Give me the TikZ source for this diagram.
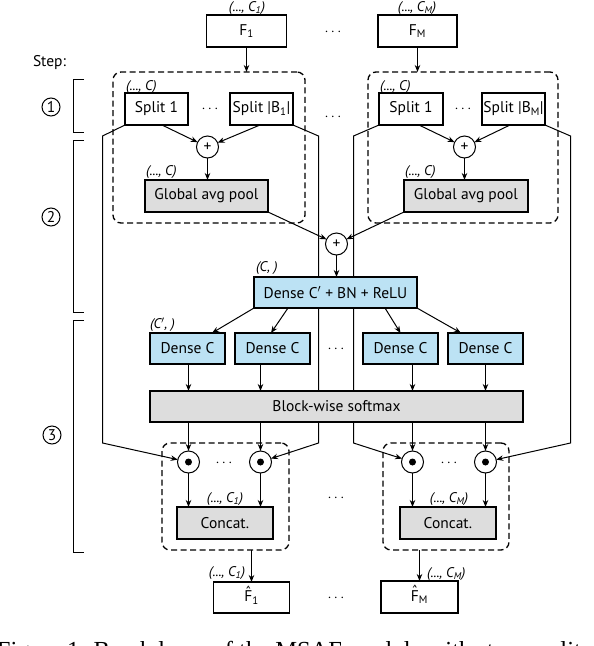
\documentclass[tikz,border=0pt]{standalone}
\usepackage{fontspec}
\setmainfont{PT Sans}
\newfontfamily\capfont{Liberation Serif}
\usetikzlibrary{arrows.meta,backgrounds}
\definecolor{boxblue}{RGB}{188,226,244}
\definecolor{boxgrey}{RGB}{221,221,221}
\newcommand{\hatF}{\ooalign{F\cr\hidewidth\raisebox{0.28em}{\char"02C6}\hidewidth\cr}}
\begin{document}
\begin{tikzpicture}[x=1pt,y=-1pt,
  every node/.style={inner sep=0pt, outer sep=0pt},
  txt/.style={font=\fontsize{15.5}{18}\selectfont},
  lbl/.style={font=\itshape\fontsize{14}{16}\selectfont},
  wbox/.style={txt, draw, line width=1.4pt, fill=white},
  gbox/.style={wbox, fill=boxgrey},
  bbox/.style={wbox, fill=boxblue},
  dbox/.style={draw, line width=1.3pt, dash pattern=on 6pt off 3.5pt, rounded corners=8pt},
  opnode/.style={draw, circle, line width=1pt, minimum size=22pt, fill=white, txt},
  dotnode/.style={opnode, path picture={\fill[black] (path picture bounding box.center) circle (3.5pt);}},
  stepnode/.style={draw, circle, line width=1pt, minimum size=18pt, txt},
  conn/.style={line width=1pt},
  arr/.style={conn, -{Stealth[length=7pt,width=5.5pt]}},
]
\useasboundingbox (0,0) rectangle (594,646);

% dashed group boxes
\node[dbox, minimum width=192pt, minimum height=151pt] (g1top) at (209,147.5) {};
\node[dbox, minimum width=190pt, minimum height=151pt] (gMtop) at (463,147.5) {};
\node[dbox, minimum width=127pt, minimum height=107pt] (g1bot) at (225.5,496.5) {};
\node[dbox, minimum width=126pt, minimum height=107pt] (gMbot) at (446,496.5) {};

% inputs
\node[wbox, minimum width=80pt, minimum height=32pt] (F1) at (246.5,31) {F\textsubscript{1}};
\node[wbox, minimum width=79pt, minimum height=32pt] (FM) at (417.5,31) {F\textsubscript{M}};
\node[lbl] (lF1) at (247,8) {(..., C\textsubscript{1})};
\node[lbl] (lFM) at (417,8) {(..., C\textsubscript{M})};
\node[txt] (dF) at (333,32) {$\cdots$};

% step column
\node[txt, anchor=west] (steptxt) at (33,63) {Step:};
\node[stepnode] (st1) at (51,107) {1};
\node[stepnode] (st2) at (51,217) {2};
\node[stepnode] (st3) at (52,435) {3};
\draw[conn] (84,79.5) -- (73.5,79.5) -- (73.5,132.5) -- (84,132.5);
\draw[conn] (84,140.5) -- (73.5,140.5) -- (73.5,312.5) -- (84,312.5);
\draw[conn] (84,320.5) -- (73.5,320.5) -- (73.5,552.5) -- (84,552.5);

% splits
\node[wbox, minimum width=63pt, minimum height=32pt] (S11) at (156.5,109) {Split 1};
\node[wbox, minimum width=63pt, minimum height=32pt] (S1B) at (261.5,109) {Split |B\textsubscript{1}|};
\node[wbox, minimum width=64pt, minimum height=32pt] (SM1) at (411,109) {Split 1};
\node[wbox, minimum width=63pt, minimum height=32pt] (SMB) at (513.5,109) {Split |B\textsubscript{M}|};
\node[txt] (dS1) at (210,109) {$\cdots$};
\node[txt] (dSM) at (463,109) {$\cdots$};
\node[txt] (dG) at (333,117) {$\cdots$};
\node[lbl, anchor=west] (lS1) at (126,87) {(..., C)};
\node[lbl, anchor=west] (lSM) at (380,87) {(..., C)};

% sums and pools
\node[opnode] (P1) at (207.5,147) {+};
\node[opnode] (PM) at (464.5,147) {+};
\node[gbox, minimum width=123pt, minimum height=32pt] (G1) at (206.5,196) {Global avg pool};
\node[gbox, minimum width=124pt, minimum height=32pt] (GM) at (466,196) {Global avg pool};
\node[lbl, anchor=west] (lG1) at (146,172) {(..., C)};
\node[lbl, anchor=west] (lGM) at (405,172) {(..., C)};

\node[opnode] (P0) at (336.5,244) {+};
\node[bbox, minimum width=163pt, minimum height=31pt] (D0) at (335.5,292.5) {Dense C$'$ + BN + ReLU};
\node[lbl, anchor=west] (lD0) at (256,268) {(C, )};

\node[bbox, minimum width=75pt, minimum height=31pt] (DC1) at (187.5,348.5) {Dense C};
\node[bbox, minimum width=75pt, minimum height=31pt] (DC2) at (272.5,348.5) {Dense C};
\node[bbox, minimum width=75pt, minimum height=31pt] (DC3) at (400.5,348.5) {Dense C};
\node[bbox, minimum width=75pt, minimum height=31pt] (DC4) at (485.5,348.5) {Dense C};
\node[lbl, anchor=west] (lDC) at (150,325) {(C$'$, )};
\node[txt] (dDC) at (336,349) {$\cdots$};

\node[gbox, minimum width=373pt, minimum height=31pt] (SMX) at (336.5,406.5) {Block-wise softmax};

% products
\node[dotnode] (O1) at (188.5,462) {};
\node[dotnode] (O2) at (260.5,462) {};
\node[dotnode] (O3) at (412.5,462) {};
\node[dotnode] (O4) at (485.5,462) {};
\node[txt] (dO1) at (224,463) {$\cdots$};
\node[txt] (dOM) at (449,463) {$\cdots$};
\node[txt] (dB) at (336,498) {$\cdots$};

\node[gbox, minimum width=96pt, minimum height=32pt] (C1) at (225,523) {Concat.};
\node[gbox, minimum width=96pt, minimum height=32pt] (CM) at (448,523) {Concat.};
\node[lbl] (lC1) at (225,499) {(..., C\textsubscript{1})};
\node[lbl] (lCM) at (449,499) {(..., C\textsubscript{M})};

% outputs
\node[wbox, minimum width=76pt, minimum height=31pt] (H1) at (251.5,597.5) {\hatF\textsubscript{1}};
\node[wbox, minimum width=77pt, minimum height=32pt] (HM) at (419.5,597) {\hatF\textsubscript{M}};
\node[lbl, anchor=east] (lH1) at (245,573) {(..., C\textsubscript{1})};
\node[lbl, anchor=west] (lHM) at (427,574) {(..., C\textsubscript{M})};
\node[txt] (dH) at (336,598) {$\cdots$};

% side (skip) lines, behind boxes
\coordinate (a1) at (102.5,136); \coordinate (a2) at (102.5,443);
\coordinate (b1) at (318.5,136); \coordinate (b2) at (318.5,443);
\coordinate (c1) at (353.5,136); \coordinate (c2) at (353.5,443);
\coordinate (e1) at (570.5,136); \coordinate (e2) at (570.5,443);
\begin{scope}[on background layer]
\fill[white] (0,0) rectangle (594,646);
\draw[arr] (S11.south west) -- (a1) -- (a2) -- (O1);
\draw[arr] (S1B.south east) -- (b1) -- (b2) -- (O2);
\draw[arr] (SM1.south west) -- (c1) -- (c2) -- (O3);
\draw[arr] (SMB.south east) -- (e1) -- (e2) -- (O4);
\end{scope}

% connectors
\draw[arr] (F1.south) -- (F1.south |- g1top.north);
\draw[arr] (FM.south) -- (FM.south |- gMtop.north);
\draw[arr] ([xshift=5.5pt]S11.south) -- (P1);
\draw[arr] ([xshift=-1.5pt]S1B.south) -- (P1);
\draw[arr] ([xshift=8pt]SM1.south) -- (PM);
\draw[arr] ([xshift=-3.5pt]SMB.south) -- (PM);
\draw[arr] (P1) -- (P1 |- G1.north);
\draw[arr] (PM) -- (PM |- GM.north);
\draw[arr] (G1.south east) -- (P0);
\draw[arr] (GM.south west) -- (P0);
\draw[arr] (P0) -- (P0 |- D0.north);
\draw[arr] (D0.south west) -- ([xshift=24.5pt]DC1.north);
\draw[arr] ([xshift=34pt]D0.south west) -- ([xshift=-1.5pt]DC2.north);
\draw[arr] ([xshift=-32pt]D0.south east) -- (DC3.north);
\draw[arr] (D0.south east) -- ([xshift=-24.5pt]DC4.north);
\draw[arr] (O1 |- DC1.south) -- (O1 |- SMX.north);
\draw[arr] (O2 |- DC2.south) -- (O2 |- SMX.north);
\draw[arr] (O3 |- DC3.south) -- (O3 |- SMX.north);
\draw[arr] (O4 |- DC4.south) -- (O4 |- SMX.north);
\draw[arr] (O1 |- SMX.south) -- (O1);
\draw[arr] (O2 |- SMX.south) -- (O2);
\draw[arr] (O3 |- SMX.south) -- (O3);
\draw[arr] (O4 |- SMX.south) -- (O4);
\draw[arr] (O1) -- (O1 |- C1.north);
\draw[arr] (O2) -- (O2 |- C1.north);
\draw[arr] (O3) -- (O3 |- CM.north);
\draw[arr] (O4) -- (O4 |- CM.north);
\draw[arr] (H1 |- g1bot.south) -- (H1.north);
\draw[arr] (HM |- gMbot.south) -- (HM.north);

% clipped caption
\begin{scope}
\clip (0,0) rectangle (594,646);
\node[anchor=base west, font=\capfont\fontsize{24.5}{24.5}\selectfont] (cap) at (-3,658) {Figure 1. Breakdown of the MSAF module with steps, split};
\end{scope}
\end{tikzpicture}
\end{document}
